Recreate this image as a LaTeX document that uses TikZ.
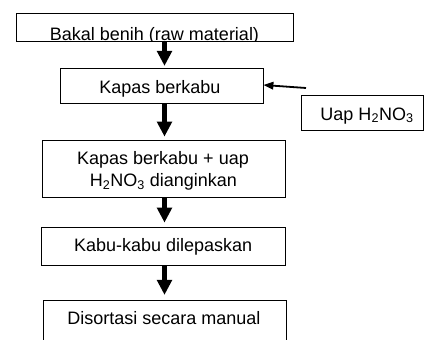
\documentclass[tikz,border=0pt]{standalone}
\usepackage{fontspec}
\setmainfont{Liberation Sans}
\usetikzlibrary{arrows.meta,calc}
\tikzset{
  boxnode/.style={draw=black, line width=0.8pt, rectangle, inner sep=0pt, fill=white},
  txt/.style={inner sep=0pt, anchor=base, font=\fontsize{18}{22}\selectfont},
  bigarrow/.style={line width=5pt, -{Triangle[length=15pt,width=14.5pt]}},
  thinarrow/.style={line width=1.8pt, -{Triangle[length=10pt,width=7.5pt]}}
}
\begin{document}
\begin{tikzpicture}[x=1pt,y=-1pt]
\useasboundingbox (0,0) rectangle (424,340);
% axis of the vertical arrows
\coordinate (ax) at (164.5,0);
% boxes
\node[boxnode, minimum width=277pt, minimum height=28pt,
  path picture={\node[txt] at ([yshift=-13.8pt]path picture bounding box.center) {Bakal benih (raw material)};}]
  (b1) at (154.5,27) {};
\node[boxnode, minimum width=203pt, minimum height=35pt] (b2) at (161.5,85.5) {};
\node[boxnode, minimum width=122pt, minimum height=35pt] (u) at (362,112.5) {};
\node[boxnode, minimum width=243pt, minimum height=57pt] (b3) at (163.5,168.5) {};
\node[boxnode, minimum width=244pt, minimum height=37.5pt] (b4) at (163,246.25) {};
\node[boxnode, minimum width=243pt, minimum height=50pt] (b5) at (164.5,325) {};
% texts
\node[txt] (t2) at (160,93.3) {Kapas berkabu};
\node[txt] (tu) at (367,120) {Uap H\textsubscript{2}NO\textsubscript{3}};
\node[txt] (t3a) at (163,164.3) {Kapas berkabu + uap};
\node[txt] (t3b) at (163.3,186.7) {H\textsubscript{2}NO\textsubscript{3} dianginkan};
\node[txt] (t4) at (163.2,251.7) {Kabu-kabu dilepaskan};
\node[txt] (t5) at (164,324.3) {Disortasi secara manual};
% arrows
\draw[bigarrow, shorten >=1.7pt] (b1.south -| ax) -- (b2.north -| ax);
\draw[bigarrow, shorten >=3pt] (b2.south -| ax) -- (b3.north -| ax);
\draw[bigarrow, shorten >=4.5pt] (b3.south -| ax) -- (b4.north -| ax);
\draw[bigarrow, shorten >=4.7pt] (b4.south -| ax) -- (b5.north -| ax);
\coordinate (ustart) at (306,88);
\draw[thinarrow] (ustart) -- ([yshift=0.5pt]b2.east);
\end{tikzpicture}
\end{document}
